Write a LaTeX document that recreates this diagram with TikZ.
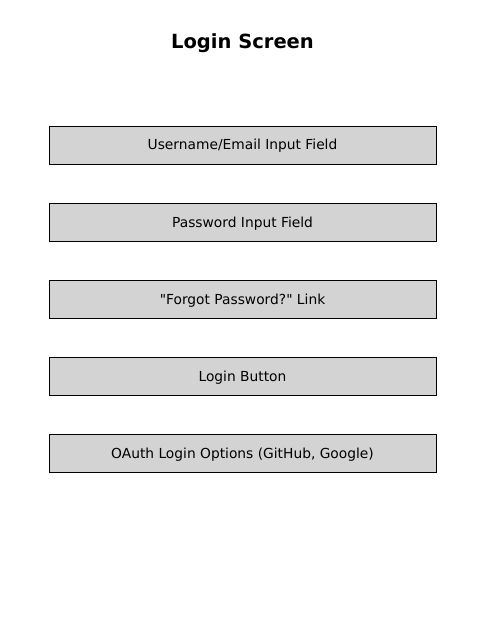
\documentclass[tikz,border=0pt]{standalone}
\usepackage{fontspec}
\setmainfont{DejaVu Sans}[Ligatures=TeXOff]
\definecolor{fieldgray}{RGB}{211,211,211}
\begin{document}
\begin{tikzpicture}[x=1pt,y=-1pt,
  field/.style={draw=black, fill=fieldgray, line width=0.9pt,
    minimum width=387pt, minimum height=38pt, inner sep=0pt,
    text height=12pt, text depth=2pt,
    font=\fontsize{13.8}{16}\selectfont},
  heading/.style={font=\fontsize{19.5}{22}\selectfont\bfseries, inner sep=0pt, anchor=base}]
  \useasboundingbox (0,0) rectangle (484,636);
  \node[heading] (title) at (242.5,48.5) {Login Screen};
  \node[field] (user)   at (242.5,145) {Username/Email Input Field};
  \node[field] (pass)   at (242.5,222) {Password Input Field};
  \node[field] (forgot) at (242.5,299) {"Forgot Password?" Link};
  \node[field] (login)  at (242.5,376) {Login Button};
  \node[field] (oauth)  at (242.5,453) {OAuth Login Options (GitHub, Google)};
\end{tikzpicture}
\end{document}
